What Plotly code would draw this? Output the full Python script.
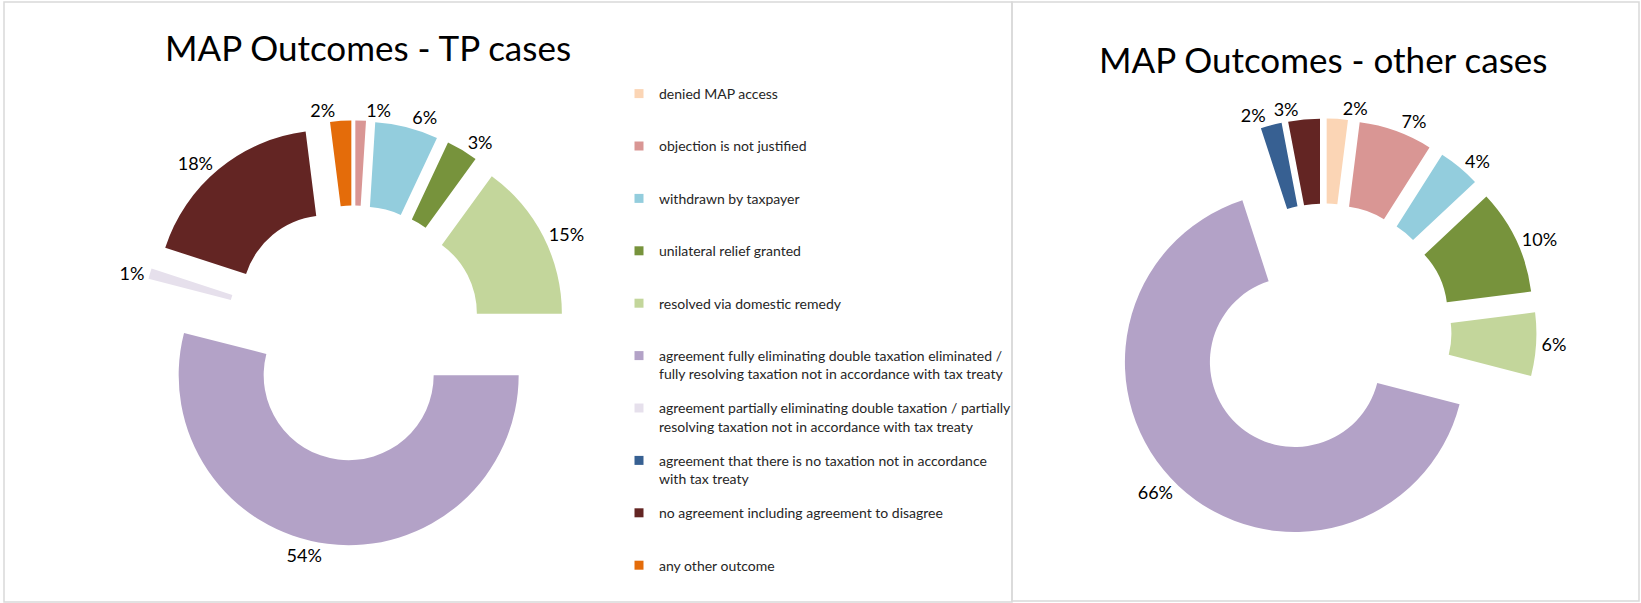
import plotly.graph_objects as go

# ---------------- data ----------------
categories = [
    "denied MAP access",
    "objection is not justified",
    "withdrawn by taxpayer",
    "unilateral relief granted",
    "resolved via domestic remedy",
    "agreement fully eliminating double taxation eliminated /<br>fully resolving taxation not in accordance with tax treaty",
    "agreement partially eliminating double taxation / partially<br>resolving taxation not in accordance with tax treaty",
    "agreement that there is no taxation not in accordance<br>with tax treaty",
    "no agreement including agreement to disagree",
    "any other outcome",
]
colors = ["#FBD5B5", "#D99694", "#93CDDD", "#77933C", "#C3D69B",
          "#B3A2C7", "#E6E0EC", "#376092", "#632523", "#E46C0A"]
tp_values = [0, 1, 6, 3, 15, 54, 1, 0, 18, 2]
other_values = [2, 7, 4, 10, 6, 66, 0, 2, 3, 0]
titles = ["MAP Outcomes - TP cases", "MAP Outcomes - other cases"]

# ---------------- layout constants (pixels) ----------------
W, H = 1641, 603
FONT = "Lato, 'Open Sans', sans-serif"
R = 170          # pie outer radius
PULL = 0.25
HALF = R * (1 + PULL)
LEG_FONT = 14
LEG_STEP = 52.4  # distance between legend entries


def domain(cx, cy):
    return dict(x=[(cx - HALF) / W, (cx + HALF) / W],
                y=[1 - (cy + HALF) / H, 1 - (cy - HALF) / H])


def split_text(vals):
    """Percent labels for non-zero slices, split into two alternating sets so
    neighbouring labels sit in different traces (no label pushing / leader lines)."""
    a, b = [], []
    k = 0
    for v in vals:
        t = f"{v}%" if v > 0 else ""
        if v > 0:
            (a if k % 2 == 0 else b).append(t)
            (b if k % 2 == 0 else a).append("")
            k += 1
        else:
            a.append("")
            b.append("")
    return a, b


fig = go.Figure()

for vals, (cx, cy) in [(tp_values, (354, 333)), (other_values, (1324, 331))]:
    text_a, text_b = split_text(vals)
    for txt, cols in [(text_a, colors), (text_b, ["rgba(0,0,0,0)"] * len(colors))]:
        fig.add_trace(go.Pie(
            labels=categories,
            values=vals,
            text=txt,
            textinfo="text",
            textposition="outside",
            outsidetextfont=dict(family=FONT, size=18, color="#000000"),
            hole=0.5,
            pull=PULL,
            sort=False,
            direction="clockwise",
            rotation=0,
            marker=dict(colors=cols, line=dict(color="rgba(255,255,255,0)", width=0)),
            domain=domain(cx, cy),
            showlegend=False,
            automargin=False,
            hoverinfo="label+value",
        ))

# legend entries (one group each so spacing can be controlled)
for i, (lab, col) in enumerate(zip(categories, colors)):
    name = lab if "<br>" in lab else lab + "<br> "
    fig.add_trace(go.Scatter(
        x=[None], y=[None], mode="markers",
        marker=dict(symbol="square", size=9, color=col),
        name=name, legendgroup=f"g{i}", showlegend=True,
        hoverinfo="skip",
    ))

item_h = 2 * LEG_FONT * 1.3 + 3

fig.update_layout(
    width=W, height=H,
    margin=dict(l=0, r=0, t=0, b=0, pad=0, autoexpand=False),
    paper_bgcolor="white", plot_bgcolor="white",
    font=dict(family=FONT, color="#000000"),
    xaxis=dict(visible=False), yaxis=dict(visible=False),
    showlegend=True,
    legend=dict(
        x=(659 - 40) / W, xanchor="left",
        y=1 - 78 / H, yanchor="top",
        font=dict(family=FONT, size=LEG_FONT, color="#262626"),
        valign="top",
        tracegroupgap=LEG_STEP - item_h,
        bgcolor="rgba(0,0,0,0)",
        itemclick=False, itemdoubleclick=False,
    ),
    shapes=[
        dict(type="rect", xref="paper", yref="paper",
             x0=4 / W, x1=1012 / W, y0=1 - 602 / H, y1=1 - 2 / H,
             line=dict(color="#D9D9D9", width=1.5), layer="below"),
        dict(type="rect", xref="paper", yref="paper",
             x0=1012 / W, x1=1639 / W, y0=1 - 601 / H, y1=1 - 2 / H,
             line=dict(color="#D9D9D9", width=1.5), layer="below"),
    ],
    annotations=[
        dict(text=titles[0], xref="paper", yref="paper", x=368 / W, y=1 - 47 / H,
             xanchor="center", yanchor="middle", showarrow=False,
             font=dict(family=FONT, size=35, color="#000000")),
        dict(text=titles[1], xref="paper", yref="paper", x=1323 / W, y=1 - 59 / H,
             xanchor="center", yanchor="middle", showarrow=False,
             font=dict(family=FONT, size=35, color="#000000")),
    ],
)

fig.write_html("out.html")
